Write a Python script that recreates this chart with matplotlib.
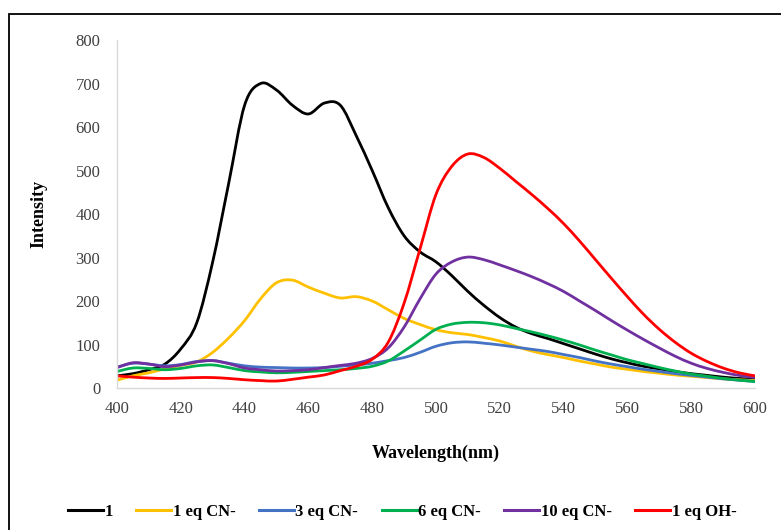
#!/usr/bin/env python3

"""
Emission spectra of 1 with added CN- / OH-
"""

import matplotlib
matplotlib.use("Agg")
import matplotlib.pyplot as plt
from matplotlib.patches import Rectangle, PathPatch
from matplotlib.path import Path
from matplotlib.lines import Line2D
import numpy as np


wavelength = np.arange(400, 601, 5)

free = [28, 33, 42, 55, 90, 150, 290, 470, 650, 700, 685, 650, 630, 655, 650,
        580, 500, 415, 350, 313, 290, 258, 222, 190, 162, 140, 125, 114, 102,
        90, 78, 67, 58, 50, 44, 38, 33, 29, 25, 22, 20]
cn1 = [18, 28, 35, 44, 52, 60, 82, 115, 155, 205, 242, 248, 232, 218, 207,
       210, 200, 180, 160, 146, 134, 127, 123, 116, 108, 96, 85, 77, 70, 62,
       55, 48, 43, 38, 34, 30, 27, 24, 21, 19, 17]
cn3 = [48, 57, 55, 51, 54, 61, 63, 57, 51, 48, 47, 46, 46, 47, 50, 53, 57, 63,
       70, 82, 96, 104, 106, 103, 99, 94, 89, 84, 77, 70, 62, 55, 49, 43, 38,
       33, 29, 25, 21, 18, 15]
cn6 = [38, 46, 45, 42, 45, 51, 53, 47, 40, 37, 35, 36, 38, 40, 42, 45, 50, 62,
       85, 110, 135, 147, 151, 150, 145, 137, 129, 120, 110, 99, 87, 76, 65,
       56, 47, 39, 32, 27, 22, 18, 15]
cn10 = [47, 58, 55, 49, 53, 60, 63, 56, 46, 42, 39, 40, 42, 47, 52, 57, 68, 92,
        140, 205, 262, 290, 301, 295, 283, 270, 256, 240, 222, 200, 178, 155,
        133, 112, 92, 73, 57, 45, 36, 29, 24]
oh1 = [28, 25, 23, 22, 23, 24, 24, 22, 19, 17, 16, 20, 25, 30, 40, 50, 66, 105,
       195, 320, 445, 510, 538, 530, 505, 475, 445, 413, 378, 338, 295, 252,
       210, 170, 135, 105, 80, 61, 46, 35, 28]

series = [
    ("1", free, "#000000"),
    ("1 eq CN-", cn1, "#FFC000"),
    ("3 eq CN-", cn3, "#4472C4"),
    ("6 eq CN-", cn6, "#00B050"),
    ("10 eq CN-", cn10, "#7030A0"),
    ("1 eq OH-", oh1, "#FF0000"),
]


def smooth_path(x, y):
    # Catmull-Rom style bezier through the points (like a "smoothed line")
    pts = np.column_stack([x, y]).astype(float)
    ext = np.vstack([pts[0], pts, pts[-1]])
    verts = [pts[0]]
    codes = [Path.MOVETO]
    for i in range(1, len(ext) - 2):
        p0, p1, p2, p3 = ext[i - 1], ext[i], ext[i + 1], ext[i + 2]
        verts += [p1 + (p2 - p0) / 6, p2 - (p3 - p1) / 6, p2]
        codes += [Path.CURVE4] * 3
    return Path(verts, codes)


plt.rcParams["font.family"] = ["Liberation Serif", "DejaVu Serif"]

fig = plt.figure(figsize=(7.81, 5.30), dpi=100)
ax = fig.add_axes([0.1498, 0.2679, 0.8169, 0.6566])

handles = []
for name, vals, col in series:
    ax.add_patch(PathPatch(smooth_path(wavelength, vals), fill=False,
                           edgecolor=col, lw=2.0, capstyle="round",
                           joinstyle="round"))
    handles.append(Line2D([], [], color=col, lw=2.2, label=name))

ax.set_xlim(400, 600)
ax.set_ylim(0, 800)
ax.set_xticks(np.arange(400, 601, 20))
ax.set_yticks(np.arange(0, 801, 100))
ax.tick_params(length=0, labelsize=12, labelcolor="#404040")
ax.tick_params(axis="x", pad=9)
ax.tick_params(axis="y", pad=12)

for side in ["top", "right"]:
    ax.spines[side].set_visible(False)
for side in ["left", "bottom"]:
    ax.spines[side].set_color("#d9d9d9")
    ax.spines[side].set_linewidth(1.0)

ax.set_xlabel("Wavelength(nm)", fontsize=13, fontweight="bold", labelpad=20)
ax.set_ylabel("Intensity", fontsize=13, fontweight="bold", labelpad=20)

fig.legend(handles=handles, loc="center", bbox_to_anchor=(0.515, 1 - 512 / 530),
           ncol=6, frameon=False, prop={"weight": "bold", "size": 12},
           handlelength=2.1, handletextpad=0.1, columnspacing=1.4)

# outer frame around the chart area
fig.patches.append(Rectangle((9 / 781, -0.1), 1.2, 0.1 + 1 - 14 / 530,
                             transform=fig.transFigure, fill=False,
                             edgecolor="black", lw=1.3))

fig.savefig("out.png", dpi=100)
plt.close(fig)
